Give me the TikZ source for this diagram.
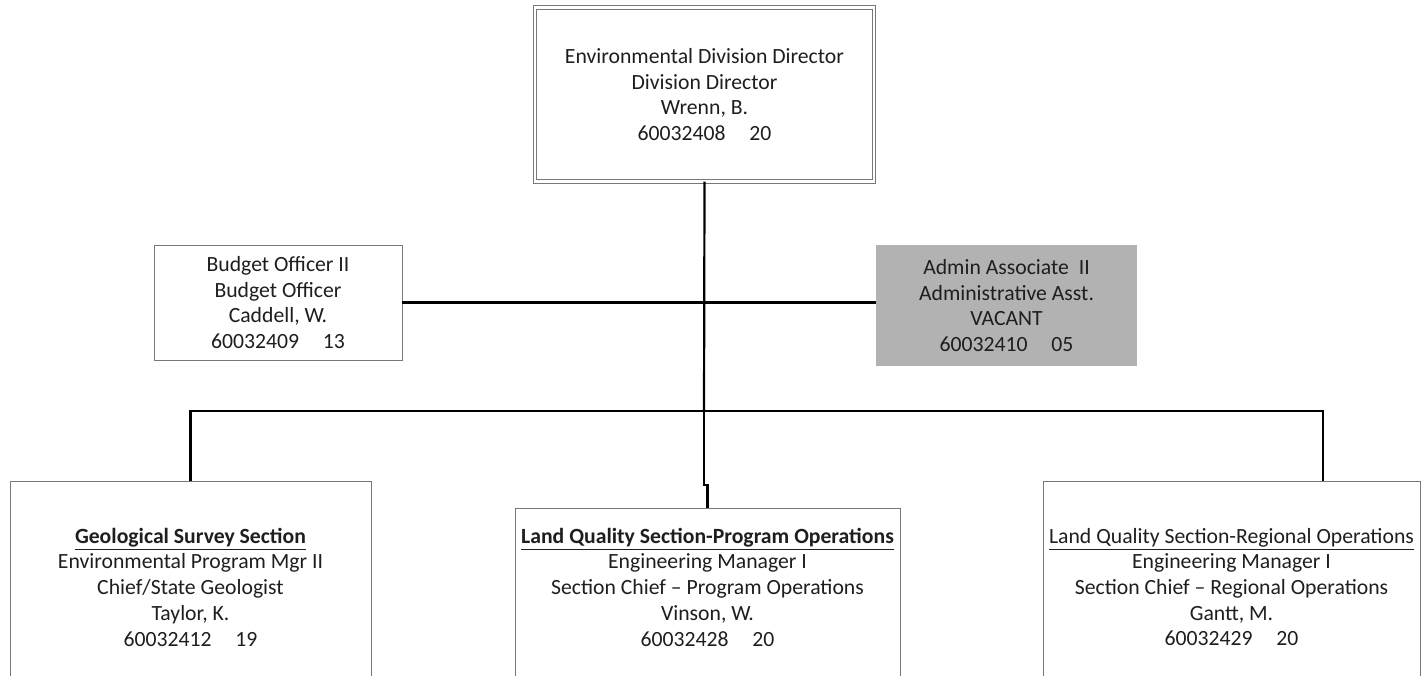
\documentclass[tikz,border=0pt]{standalone}
\usepackage{fontspec}
\setmainfont{Carlito}
\usepackage{tikz}

\definecolor{boxline}{RGB}{120,120,120}
\definecolor{vacant}{RGB}{178,178,178}
\definecolor{ink}{RGB}{30,30,30}

\begin{document}
\begin{tikzpicture}[x=0.5pt, y=-0.5pt,
	every node/.style={inner sep=0pt, outer sep=0pt, align=center, text=ink, font=\fontsize{10.85}{12.85}\selectfont},
	box/.style={draw=boxline, line width=0.5pt},
	headbox/.style={draw=boxline, line width=0.5pt, double=white, double distance=1.25pt},
	vacantbox/.style={fill=vacant},
	sectionbox/.style={draw=boxline, line width=0.5pt, anchor=north, text depth=70pt},
	link/.style={draw=black, line width=1.1pt}]
			\useasboundingbox (0,0) rectangle (1427,675);
			\clip (0,0) rectangle (1427,675);
			
			\node[headbox, minimum width=169.5pt, minimum height=87pt] (dir) at (704.5,94.5){Environmental Division Director\\Division Director\\Wrenn, B.\\60032408\hspace{1.1em}20};
			
			\node[box, minimum width=124pt, minimum height=57.5pt] (bud) at (278,302.5){Budget Officer II\\Budget Officer\\Caddell, W.\\60032409\hspace{1.1em}13};
			\node[vacantbox, minimum width=130.5pt, minimum height=60.5pt] (adm) at (1006.5,305.5){Admin Associate\ \ II\\Administrative Asst.\\VACANT\\60032410\hspace{1.1em}05};
			
			\node[sectionbox, minimum width=180.5pt, inner ysep=23.5pt] (geo) at (190.5,481){\underline{\textbf{Geological Survey Section}}\\Environmental Program Mgr II\\Chief/State Geologist\\Taylor, K.\\60032412\hspace{1.1em}19};
			\node[sectionbox, minimum width=192.5pt, inner ysep=10pt] (lqp) at (707.5,508){\underline{\textbf{Land Quality Section-Program Operations}}\\Engineering Manager I\\Section Chief – Program Operations\\Vinson, W.\\60032428\hspace{1.1em}20};
			\node[sectionbox, minimum width=188.5pt, inner ysep=23.5pt] (lqr) at (1231.5,481){\underline{Land Quality Section-Regional Operations}\\Engineering Manager I\\Section Chief – Regional Operations\\Gantt, M.\\60032429\hspace{1.1em}20};
			
			\coordinate (bus) at (704,411);
			\coordinate (lqrtop) at ([xshift=-48.5pt]lqr.north east);
			
			\path[link] (dir.south) -- (bus);
			\path[link] (bud.east) -- (bud.east -| adm.west);
			\path[link] (geo.north) |- (bus) -| (lqrtop);
			\path[link] (bus) -- ++(0,74) -| (lqp.north);
			\end{tikzpicture}
\end{document}
